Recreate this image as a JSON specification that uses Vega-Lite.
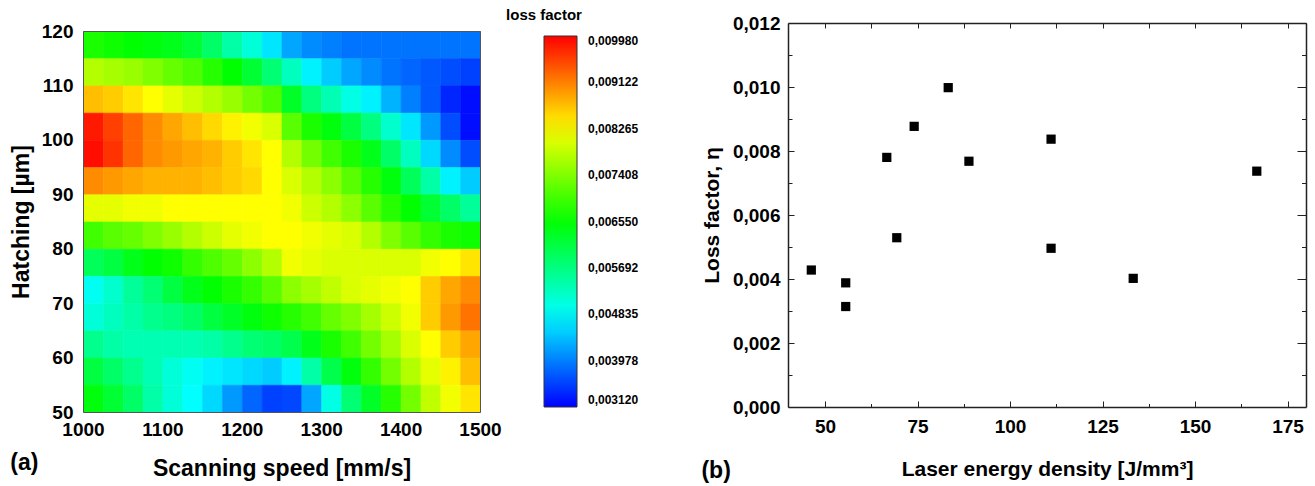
{
"$schema": "https://vega.github.io/schema/vega-lite/v6.json",
"padding": {"left": 10, "top": 8, "right": 5, "bottom": 5},
"config": {
"locale": {"number": {"decimal": ",", "thousands": "", "grouping": [3], "currency": ["", ""]}},
"view": {"stroke": null},
"font": "Liberation Sans",
"axis": {"grid": false, "labelFont": "Liberation Sans", "labelFontWeight": "bold", "labelFontSize": 19, "labelColor": "#000", "titleFont": "Liberation Sans", "titleFontWeight": "bold", "titleColor": "#000", "domainColor": "#222", "tickColor": "#222", "labelFlush": false, "labelOverlap": false},
"title": {"font": "Liberation Sans", "fontWeight": "bold", "fontSize": 23, "color": "#000"}
},
"datasets": {
"grid": [
{"speed":1012.5,"hatching":117.5,"lf":0.006722},{"speed":1037.5,"hatching":117.5,"lf":0.006636},{"speed":1062.5,"hatching":117.5,"lf":0.006550},{"speed":1087.5,"hatching":117.5,"lf":0.006464},{"speed":1112.5,"hatching":117.5,"lf":0.006379},{"speed":1137.5,"hatching":117.5,"lf":0.006207},{"speed":1162.5,"hatching":117.5,"lf":0.005864},{"speed":1187.5,"hatching":117.5,"lf":0.005435},{"speed":1212.5,"hatching":117.5,"lf":0.005092},{"speed":1237.5,"hatching":117.5,"lf":0.004664},{"speed":1262.5,"hatching":117.5,"lf":0.004235},{"speed":1287.5,"hatching":117.5,"lf":0.004063},{"speed":1312.5,"hatching":117.5,"lf":0.003978},{"speed":1337.5,"hatching":117.5,"lf":0.003892},{"speed":1362.5,"hatching":117.5,"lf":0.003892},{"speed":1387.5,"hatching":117.5,"lf":0.003892},{"speed":1412.5,"hatching":117.5,"lf":0.003892},{"speed":1437.5,"hatching":117.5,"lf":0.003892},{"speed":1462.5,"hatching":117.5,"lf":0.003892},{"speed":1487.5,"hatching":117.5,"lf":0.003892},
{"speed":1012.5,"hatching":112.5,"lf":0.007751},{"speed":1037.5,"hatching":112.5,"lf":0.007665},{"speed":1062.5,"hatching":112.5,"lf":0.007579},{"speed":1087.5,"hatching":112.5,"lf":0.007408},{"speed":1112.5,"hatching":112.5,"lf":0.007236},{"speed":1137.5,"hatching":112.5,"lf":0.007065},{"speed":1162.5,"hatching":112.5,"lf":0.006807},{"speed":1187.5,"hatching":112.5,"lf":0.006550},{"speed":1212.5,"hatching":112.5,"lf":0.006207},{"speed":1237.5,"hatching":112.5,"lf":0.005778},{"speed":1262.5,"hatching":112.5,"lf":0.005264},{"speed":1287.5,"hatching":112.5,"lf":0.004749},{"speed":1312.5,"hatching":112.5,"lf":0.004492},{"speed":1337.5,"hatching":112.5,"lf":0.004235},{"speed":1362.5,"hatching":112.5,"lf":0.004063},{"speed":1387.5,"hatching":112.5,"lf":0.003892},{"speed":1412.5,"hatching":112.5,"lf":0.003806},{"speed":1437.5,"hatching":112.5,"lf":0.003720},{"speed":1462.5,"hatching":112.5,"lf":0.003635},{"speed":1487.5,"hatching":112.5,"lf":0.003549},
{"speed":1012.5,"hatching":107.5,"lf":0.008694},{"speed":1037.5,"hatching":107.5,"lf":0.008608},{"speed":1062.5,"hatching":107.5,"lf":0.008437},{"speed":1087.5,"hatching":107.5,"lf":0.008265},{"speed":1112.5,"hatching":107.5,"lf":0.008094},{"speed":1137.5,"hatching":107.5,"lf":0.007922},{"speed":1162.5,"hatching":107.5,"lf":0.007751},{"speed":1187.5,"hatching":107.5,"lf":0.007579},{"speed":1212.5,"hatching":107.5,"lf":0.007322},{"speed":1237.5,"hatching":107.5,"lf":0.007065},{"speed":1262.5,"hatching":107.5,"lf":0.006293},{"speed":1287.5,"hatching":107.5,"lf":0.005693},{"speed":1312.5,"hatching":107.5,"lf":0.005350},{"speed":1337.5,"hatching":107.5,"lf":0.005007},{"speed":1362.5,"hatching":107.5,"lf":0.004749},{"speed":1387.5,"hatching":107.5,"lf":0.004321},{"speed":1412.5,"hatching":107.5,"lf":0.003978},{"speed":1437.5,"hatching":107.5,"lf":0.003720},{"speed":1462.5,"hatching":107.5,"lf":0.003377},{"speed":1487.5,"hatching":107.5,"lf":0.003206},
{"speed":1012.5,"hatching":102.5,"lf":0.009809},{"speed":1037.5,"hatching":102.5,"lf":0.009551},{"speed":1062.5,"hatching":102.5,"lf":0.009294},{"speed":1087.5,"hatching":102.5,"lf":0.009037},{"speed":1112.5,"hatching":102.5,"lf":0.008865},{"speed":1137.5,"hatching":102.5,"lf":0.008694},{"speed":1162.5,"hatching":102.5,"lf":0.008522},{"speed":1187.5,"hatching":102.5,"lf":0.008351},{"speed":1212.5,"hatching":102.5,"lf":0.008179},{"speed":1237.5,"hatching":102.5,"lf":0.008008},{"speed":1262.5,"hatching":102.5,"lf":0.007150},{"speed":1287.5,"hatching":102.5,"lf":0.006722},{"speed":1312.5,"hatching":102.5,"lf":0.006464},{"speed":1337.5,"hatching":102.5,"lf":0.006121},{"speed":1362.5,"hatching":102.5,"lf":0.005693},{"speed":1387.5,"hatching":102.5,"lf":0.005178},{"speed":1412.5,"hatching":102.5,"lf":0.004664},{"speed":1437.5,"hatching":102.5,"lf":0.004149},{"speed":1462.5,"hatching":102.5,"lf":0.003635},{"speed":1487.5,"hatching":102.5,"lf":0.003206},
{"speed":1012.5,"hatching":97.5,"lf":0.009894},{"speed":1037.5,"hatching":97.5,"lf":0.009637},{"speed":1062.5,"hatching":97.5,"lf":0.009294},{"speed":1087.5,"hatching":97.5,"lf":0.009037},{"speed":1112.5,"hatching":97.5,"lf":0.008951},{"speed":1137.5,"hatching":97.5,"lf":0.008865},{"speed":1162.5,"hatching":97.5,"lf":0.008780},{"speed":1187.5,"hatching":97.5,"lf":0.008608},{"speed":1212.5,"hatching":97.5,"lf":0.008437},{"speed":1237.5,"hatching":97.5,"lf":0.008265},{"speed":1262.5,"hatching":97.5,"lf":0.007751},{"speed":1287.5,"hatching":97.5,"lf":0.007322},{"speed":1312.5,"hatching":97.5,"lf":0.006979},{"speed":1337.5,"hatching":97.5,"lf":0.006722},{"speed":1362.5,"hatching":97.5,"lf":0.006379},{"speed":1387.5,"hatching":97.5,"lf":0.005864},{"speed":1412.5,"hatching":97.5,"lf":0.005264},{"speed":1437.5,"hatching":97.5,"lf":0.004578},{"speed":1462.5,"hatching":97.5,"lf":0.004063},{"speed":1487.5,"hatching":97.5,"lf":0.003635},
{"speed":1012.5,"hatching":92.5,"lf":0.009037},{"speed":1037.5,"hatching":92.5,"lf":0.008951},{"speed":1062.5,"hatching":92.5,"lf":0.008865},{"speed":1087.5,"hatching":92.5,"lf":0.008780},{"speed":1112.5,"hatching":92.5,"lf":0.008780},{"speed":1137.5,"hatching":92.5,"lf":0.008780},{"speed":1162.5,"hatching":92.5,"lf":0.008694},{"speed":1187.5,"hatching":92.5,"lf":0.008608},{"speed":1212.5,"hatching":92.5,"lf":0.008522},{"speed":1237.5,"hatching":92.5,"lf":0.008265},{"speed":1262.5,"hatching":92.5,"lf":0.008008},{"speed":1287.5,"hatching":92.5,"lf":0.007751},{"speed":1312.5,"hatching":92.5,"lf":0.007493},{"speed":1337.5,"hatching":92.5,"lf":0.007150},{"speed":1362.5,"hatching":92.5,"lf":0.006807},{"speed":1387.5,"hatching":92.5,"lf":0.006464},{"speed":1412.5,"hatching":92.5,"lf":0.005950},{"speed":1437.5,"hatching":92.5,"lf":0.005435},{"speed":1462.5,"hatching":92.5,"lf":0.004749},{"speed":1487.5,"hatching":92.5,"lf":0.004492},
{"speed":1012.5,"hatching":87.5,"lf":0.008094},{"speed":1037.5,"hatching":87.5,"lf":0.008094},{"speed":1062.5,"hatching":87.5,"lf":0.008179},{"speed":1087.5,"hatching":87.5,"lf":0.008179},{"speed":1112.5,"hatching":87.5,"lf":0.008265},{"speed":1137.5,"hatching":87.5,"lf":0.008265},{"speed":1162.5,"hatching":87.5,"lf":0.008265},{"speed":1187.5,"hatching":87.5,"lf":0.008265},{"speed":1212.5,"hatching":87.5,"lf":0.008265},{"speed":1237.5,"hatching":87.5,"lf":0.008265},{"speed":1262.5,"hatching":87.5,"lf":0.008179},{"speed":1287.5,"hatching":87.5,"lf":0.007922},{"speed":1312.5,"hatching":87.5,"lf":0.007751},{"speed":1337.5,"hatching":87.5,"lf":0.007493},{"speed":1362.5,"hatching":87.5,"lf":0.007150},{"speed":1387.5,"hatching":87.5,"lf":0.006807},{"speed":1412.5,"hatching":87.5,"lf":0.006550},{"speed":1437.5,"hatching":87.5,"lf":0.006207},{"speed":1462.5,"hatching":87.5,"lf":0.005864},{"speed":1487.5,"hatching":87.5,"lf":0.005521},
{"speed":1012.5,"hatching":82.5,"lf":0.006979},{"speed":1037.5,"hatching":82.5,"lf":0.007150},{"speed":1062.5,"hatching":82.5,"lf":0.007236},{"speed":1087.5,"hatching":82.5,"lf":0.007408},{"speed":1112.5,"hatching":82.5,"lf":0.007579},{"speed":1137.5,"hatching":82.5,"lf":0.007751},{"speed":1162.5,"hatching":82.5,"lf":0.007922},{"speed":1187.5,"hatching":82.5,"lf":0.008094},{"speed":1212.5,"hatching":82.5,"lf":0.008179},{"speed":1237.5,"hatching":82.5,"lf":0.008265},{"speed":1262.5,"hatching":82.5,"lf":0.008265},{"speed":1287.5,"hatching":82.5,"lf":0.008179},{"speed":1312.5,"hatching":82.5,"lf":0.008094},{"speed":1337.5,"hatching":82.5,"lf":0.008008},{"speed":1362.5,"hatching":82.5,"lf":0.007751},{"speed":1387.5,"hatching":82.5,"lf":0.007408},{"speed":1412.5,"hatching":82.5,"lf":0.007150},{"speed":1437.5,"hatching":82.5,"lf":0.006893},{"speed":1462.5,"hatching":82.5,"lf":0.006722},{"speed":1487.5,"hatching":82.5,"lf":0.006636},
{"speed":1012.5,"hatching":77.5,"lf":0.005950},{"speed":1037.5,"hatching":77.5,"lf":0.006121},{"speed":1062.5,"hatching":77.5,"lf":0.006379},{"speed":1087.5,"hatching":77.5,"lf":0.006550},{"speed":1112.5,"hatching":77.5,"lf":0.006636},{"speed":1137.5,"hatching":77.5,"lf":0.006893},{"speed":1162.5,"hatching":77.5,"lf":0.007065},{"speed":1187.5,"hatching":77.5,"lf":0.007236},{"speed":1212.5,"hatching":77.5,"lf":0.007493},{"speed":1237.5,"hatching":77.5,"lf":0.007751},{"speed":1262.5,"hatching":77.5,"lf":0.008179},{"speed":1287.5,"hatching":77.5,"lf":0.008094},{"speed":1312.5,"hatching":77.5,"lf":0.008008},{"speed":1337.5,"hatching":77.5,"lf":0.008008},{"speed":1362.5,"hatching":77.5,"lf":0.008008},{"speed":1387.5,"hatching":77.5,"lf":0.008008},{"speed":1412.5,"hatching":77.5,"lf":0.008008},{"speed":1437.5,"hatching":77.5,"lf":0.008179},{"speed":1462.5,"hatching":77.5,"lf":0.008265},{"speed":1487.5,"hatching":77.5,"lf":0.008437},
{"speed":1012.5,"hatching":72.5,"lf":0.004921},{"speed":1037.5,"hatching":72.5,"lf":0.005178},{"speed":1062.5,"hatching":72.5,"lf":0.005521},{"speed":1087.5,"hatching":72.5,"lf":0.005778},{"speed":1112.5,"hatching":72.5,"lf":0.006121},{"speed":1137.5,"hatching":72.5,"lf":0.006379},{"speed":1162.5,"hatching":72.5,"lf":0.006550},{"speed":1187.5,"hatching":72.5,"lf":0.006722},{"speed":1212.5,"hatching":72.5,"lf":0.006893},{"speed":1237.5,"hatching":72.5,"lf":0.007150},{"speed":1262.5,"hatching":72.5,"lf":0.007493},{"speed":1287.5,"hatching":72.5,"lf":0.007665},{"speed":1312.5,"hatching":72.5,"lf":0.007836},{"speed":1337.5,"hatching":72.5,"lf":0.008008},{"speed":1362.5,"hatching":72.5,"lf":0.008094},{"speed":1387.5,"hatching":72.5,"lf":0.008179},{"speed":1412.5,"hatching":72.5,"lf":0.008265},{"speed":1437.5,"hatching":72.5,"lf":0.008608},{"speed":1462.5,"hatching":72.5,"lf":0.008865},{"speed":1487.5,"hatching":72.5,"lf":0.009037},
{"speed":1012.5,"hatching":67.5,"lf":0.005092},{"speed":1037.5,"hatching":67.5,"lf":0.005264},{"speed":1062.5,"hatching":67.5,"lf":0.005435},{"speed":1087.5,"hatching":67.5,"lf":0.005607},{"speed":1112.5,"hatching":67.5,"lf":0.005693},{"speed":1137.5,"hatching":67.5,"lf":0.005864},{"speed":1162.5,"hatching":67.5,"lf":0.006121},{"speed":1187.5,"hatching":67.5,"lf":0.006293},{"speed":1212.5,"hatching":67.5,"lf":0.006464},{"speed":1237.5,"hatching":67.5,"lf":0.006636},{"speed":1262.5,"hatching":67.5,"lf":0.006807},{"speed":1287.5,"hatching":67.5,"lf":0.006979},{"speed":1312.5,"hatching":67.5,"lf":0.007236},{"speed":1337.5,"hatching":67.5,"lf":0.007408},{"speed":1362.5,"hatching":67.5,"lf":0.007665},{"speed":1387.5,"hatching":67.5,"lf":0.007922},{"speed":1412.5,"hatching":67.5,"lf":0.008179},{"speed":1437.5,"hatching":67.5,"lf":0.008608},{"speed":1462.5,"hatching":67.5,"lf":0.008951},{"speed":1487.5,"hatching":67.5,"lf":0.009208},
{"speed":1012.5,"hatching":62.5,"lf":0.005607},{"speed":1037.5,"hatching":62.5,"lf":0.005435},{"speed":1062.5,"hatching":62.5,"lf":0.005350},{"speed":1087.5,"hatching":62.5,"lf":0.005350},{"speed":1112.5,"hatching":62.5,"lf":0.005350},{"speed":1137.5,"hatching":62.5,"lf":0.005350},{"speed":1162.5,"hatching":62.5,"lf":0.005435},{"speed":1187.5,"hatching":62.5,"lf":0.005607},{"speed":1212.5,"hatching":62.5,"lf":0.005778},{"speed":1237.5,"hatching":62.5,"lf":0.005864},{"speed":1262.5,"hatching":62.5,"lf":0.006036},{"speed":1287.5,"hatching":62.5,"lf":0.006379},{"speed":1312.5,"hatching":62.5,"lf":0.006722},{"speed":1337.5,"hatching":62.5,"lf":0.006979},{"speed":1362.5,"hatching":62.5,"lf":0.007322},{"speed":1387.5,"hatching":62.5,"lf":0.007665},{"speed":1412.5,"hatching":62.5,"lf":0.008008},{"speed":1437.5,"hatching":62.5,"lf":0.008265},{"speed":1462.5,"hatching":62.5,"lf":0.008608},{"speed":1487.5,"hatching":62.5,"lf":0.008865},
{"speed":1012.5,"hatching":57.5,"lf":0.006121},{"speed":1037.5,"hatching":57.5,"lf":0.005864},{"speed":1062.5,"hatching":57.5,"lf":0.005607},{"speed":1087.5,"hatching":57.5,"lf":0.005350},{"speed":1112.5,"hatching":57.5,"lf":0.005092},{"speed":1137.5,"hatching":57.5,"lf":0.004921},{"speed":1162.5,"hatching":57.5,"lf":0.004749},{"speed":1187.5,"hatching":57.5,"lf":0.004664},{"speed":1212.5,"hatching":57.5,"lf":0.004578},{"speed":1237.5,"hatching":57.5,"lf":0.004492},{"speed":1262.5,"hatching":57.5,"lf":0.004749},{"speed":1287.5,"hatching":57.5,"lf":0.005435},{"speed":1312.5,"hatching":57.5,"lf":0.006036},{"speed":1337.5,"hatching":57.5,"lf":0.006464},{"speed":1362.5,"hatching":57.5,"lf":0.006893},{"speed":1387.5,"hatching":57.5,"lf":0.007322},{"speed":1412.5,"hatching":57.5,"lf":0.007751},{"speed":1437.5,"hatching":57.5,"lf":0.008094},{"speed":1462.5,"hatching":57.5,"lf":0.008351},{"speed":1487.5,"hatching":57.5,"lf":0.008694},
{"speed":1012.5,"hatching":52.5,"lf":0.006464},{"speed":1037.5,"hatching":52.5,"lf":0.006207},{"speed":1062.5,"hatching":52.5,"lf":0.005864},{"speed":1087.5,"hatching":52.5,"lf":0.005435},{"speed":1112.5,"hatching":52.5,"lf":0.005092},{"speed":1137.5,"hatching":52.5,"lf":0.004835},{"speed":1162.5,"hatching":52.5,"lf":0.004578},{"speed":1187.5,"hatching":52.5,"lf":0.004149},{"speed":1212.5,"hatching":52.5,"lf":0.003806},{"speed":1237.5,"hatching":52.5,"lf":0.003549},{"speed":1262.5,"hatching":52.5,"lf":0.003600},{"speed":1287.5,"hatching":52.5,"lf":0.004235},{"speed":1312.5,"hatching":52.5,"lf":0.005007},{"speed":1337.5,"hatching":52.5,"lf":0.005778},{"speed":1362.5,"hatching":52.5,"lf":0.006293},{"speed":1387.5,"hatching":52.5,"lf":0.006807},{"speed":1412.5,"hatching":52.5,"lf":0.007322},{"speed":1437.5,"hatching":52.5,"lf":0.007836},{"speed":1462.5,"hatching":52.5,"lf":0.008179},{"speed":1487.5,"hatching":52.5,"lf":0.008437}
],
"pts": [
{"energy":46.3,"loss":0.00428},{"energy":55.6,"loss":0.00388},{"energy":55.6,"loss":0.00314},{"energy":66.7,"loss":0.00780},{"energy":69.4,"loss":0.00529},{"energy":74.1,"loss":0.00877},{"energy":83.3,"loss":0.00998},{"energy":88.9,"loss":0.00768},{"energy":111.1,"loss":0.00837},{"energy":111.1,"loss":0.00496},{"energy":133.3,"loss":0.00402},{"energy":166.7,"loss":0.00737}
]
},
"resolve": {"scale": {"color": "independent", "stroke": "independent"}},
"spacing": 62,
"hconcat": [
{
"width": 397, "height": 389,
"data": {"name": "grid"},
"title": {"text": "(a)", "orient": "bottom", "anchor": "start", "frame": "bounds", "offset": -28},
"layer": [
{
"mark": {"type": "rect", "strokeWidth": 0.6, "binSpacing": 0},
"encoding": {
"x": {"field": "speed", "type": "quantitative", "bin": {"extent": [1000, 1500], "step": 25}, "scale": {"domain": [1000, 1500], "nice": false, "zero": false},
"axis": {"orient": "bottom", "values": [1000, 1100, 1200, 1300, 1400, 1500], "format": "d", "ticks": false, "labelPadding": 8, "title": "Scanning speed [mm/s]", "titleFontSize": 23, "titlePadding": 18, "domainColor": "#555"}},
"y": {"field": "hatching", "type": "quantitative", "bin": {"extent": [50, 120], "step": 5}, "scale": {"domain": [50, 120], "range": [389, 8], "nice": false, "zero": false},
"axis": {"orient": "left", "values": [50, 60, 70, 80, 90, 100, 110, 120], "format": "d", "ticks": false, "labelPadding": 10, "title": "Hatching [µm]", "titleFontSize": 23, "titlePadding": 8, "domainColor": "#555"}},
"color": {"field": "lf", "type": "quantitative",
"scale": {"type": "linear", "domain": [0.00312, 0.004835, 0.00655, 0.008265, 0.00998], "range": ["#0000ff", "#00ffff", "#00ff00", "#ffff00", "#ff0000"], "interpolate": "rgb", "clamp": true},
"legend": {"type": "gradient", "orient": "none", "legendX": 423, "legendY": -15, "direction": "vertical", "title": "loss factor", "titleFont": "Liberation Sans", "titleFontSize": 15, "titleFontWeight": "bold", "titleColor": "#000", "titleAnchor": "start", "titleAlign": "center", "titlePadding": 13, "gradientLength": 371, "gradientThickness": 33, "gradientStrokeColor": "#333", "gradientStrokeWidth": 1, "labelFont": "Liberation Sans", "labelFontSize": 12, "labelFontWeight": "bold", "labelColor": "#000", "labelOffset": 11, "labelBaseline": "middle", "labelOverlap": false, "padding": 0, "format": ".6f", "values": [0.00312, 0.003978, 0.004835, 0.005692, 0.00655, 0.007408, 0.008265, 0.009122, 0.00998]}},
"stroke": {"field": "lf", "type": "quantitative",
"scale": {"type": "linear", "domain": [0.0031199, 0.004835, 0.00655, 0.008265, 0.00998], "range": ["#0000ff", "#00ffff", "#00ff00", "#ffff00", "#ff0000"], "interpolate": "rgb", "clamp": true},
"legend": null}
}
},
{
"mark": {"type": "rect", "opacity": 0, "binSpacing": 0},
"encoding": {
"x": {"field": "speed", "type": "quantitative", "bin": {"extent": [1000, 1500], "step": 25},
"axis": {"orient": "top", "offset": -8, "labels": false, "ticks": false, "title": null, "domainColor": "#555"}},
"y": {"field": "hatching", "type": "quantitative", "bin": {"extent": [50, 120], "step": 5},
"axis": {"orient": "right", "labels": false, "ticks": false, "title": null, "domainColor": "#555"}}
}
}
],
"resolve": {"axis": {"x": "independent", "y": "independent"}}
},
{
"width": 518, "height": 384,
"data": {"name": "pts"},
"title": {"text": "(b)", "orient": "bottom", "anchor": "start", "frame": "bounds", "offset": -19},
"layer": [
{
"mark": {"type": "point", "shape": "square", "filled": true, "size": 85, "color": "#000", "opacity": 1},
"encoding": {
"x": {"field": "energy", "type": "quantitative", "scale": {"domain": [40, 180], "nice": false, "zero": false},
"axis": {"orient": "bottom", "values": [50, 75, 100, 125, 150, 175], "format": "d", "tickSize": -6, "labelPadding": 16, "title": "Laser energy density [J/mm³]", "titleFontSize": 21, "titlePadding": 22, "domainWidth": 1.5}},
"y": {"field": "loss", "type": "quantitative", "scale": {"domain": [0, 0.012], "nice": false},
"axis": {"orient": "left", "values": [0, 0.002, 0.004, 0.006, 0.008, 0.01, 0.012], "format": ".3f", "tickSize": -6, "labelPadding": 14, "title": "Loss factor, η", "titleFontSize": 21, "titlePadding": 10, "domainWidth": 1.5}}
}
},
{
"mark": {"type": "point", "opacity": 0},
"encoding": {
"x": {"field": "energy", "type": "quantitative",
"axis": {"orient": "top", "values": [50, 62.5, 75, 87.5, 100, 112.5, 125, 137.5, 150, 162.5, 175], "tickSize": -5, "labels": false, "title": null, "domainWidth": 1.5}},
"y": {"field": "loss", "type": "quantitative",
"axis": {"orient": "right", "values": [0.002, 0.004, 0.006, 0.008, 0.01, 0.012], "tickSize": -9, "labels": false, "title": null, "domainWidth": 1.5}}
}
},
{
"mark": {"type": "point", "opacity": 0},
"encoding": {
"x": {"field": "energy", "type": "quantitative",
"axis": {"orient": "bottom", "values": [62.5, 87.5, 112.5, 137.5, 162.5], "tickSize": -3.5, "labels": false, "domain": false, "title": null}},
"y": {"field": "loss", "type": "quantitative",
"axis": {"orient": "left", "values": [0.001, 0.003, 0.005, 0.007, 0.009, 0.011], "tickSize": -4, "labels": false, "domain": false, "title": null}}
}
},
{
"mark": {"type": "point", "opacity": 0},
"encoding": {
"x": {"field": "energy", "type": "quantitative", "axis": null},
"y": {"field": "loss", "type": "quantitative",
"axis": {"orient": "right", "values": [0.001, 0.003, 0.005, 0.007, 0.009, 0.011], "tickSize": -4.5, "labels": false, "domain": false, "title": null}}
}
}
],
"resolve": {"axis": {"x": "independent", "y": "independent"}}
}
]
}
